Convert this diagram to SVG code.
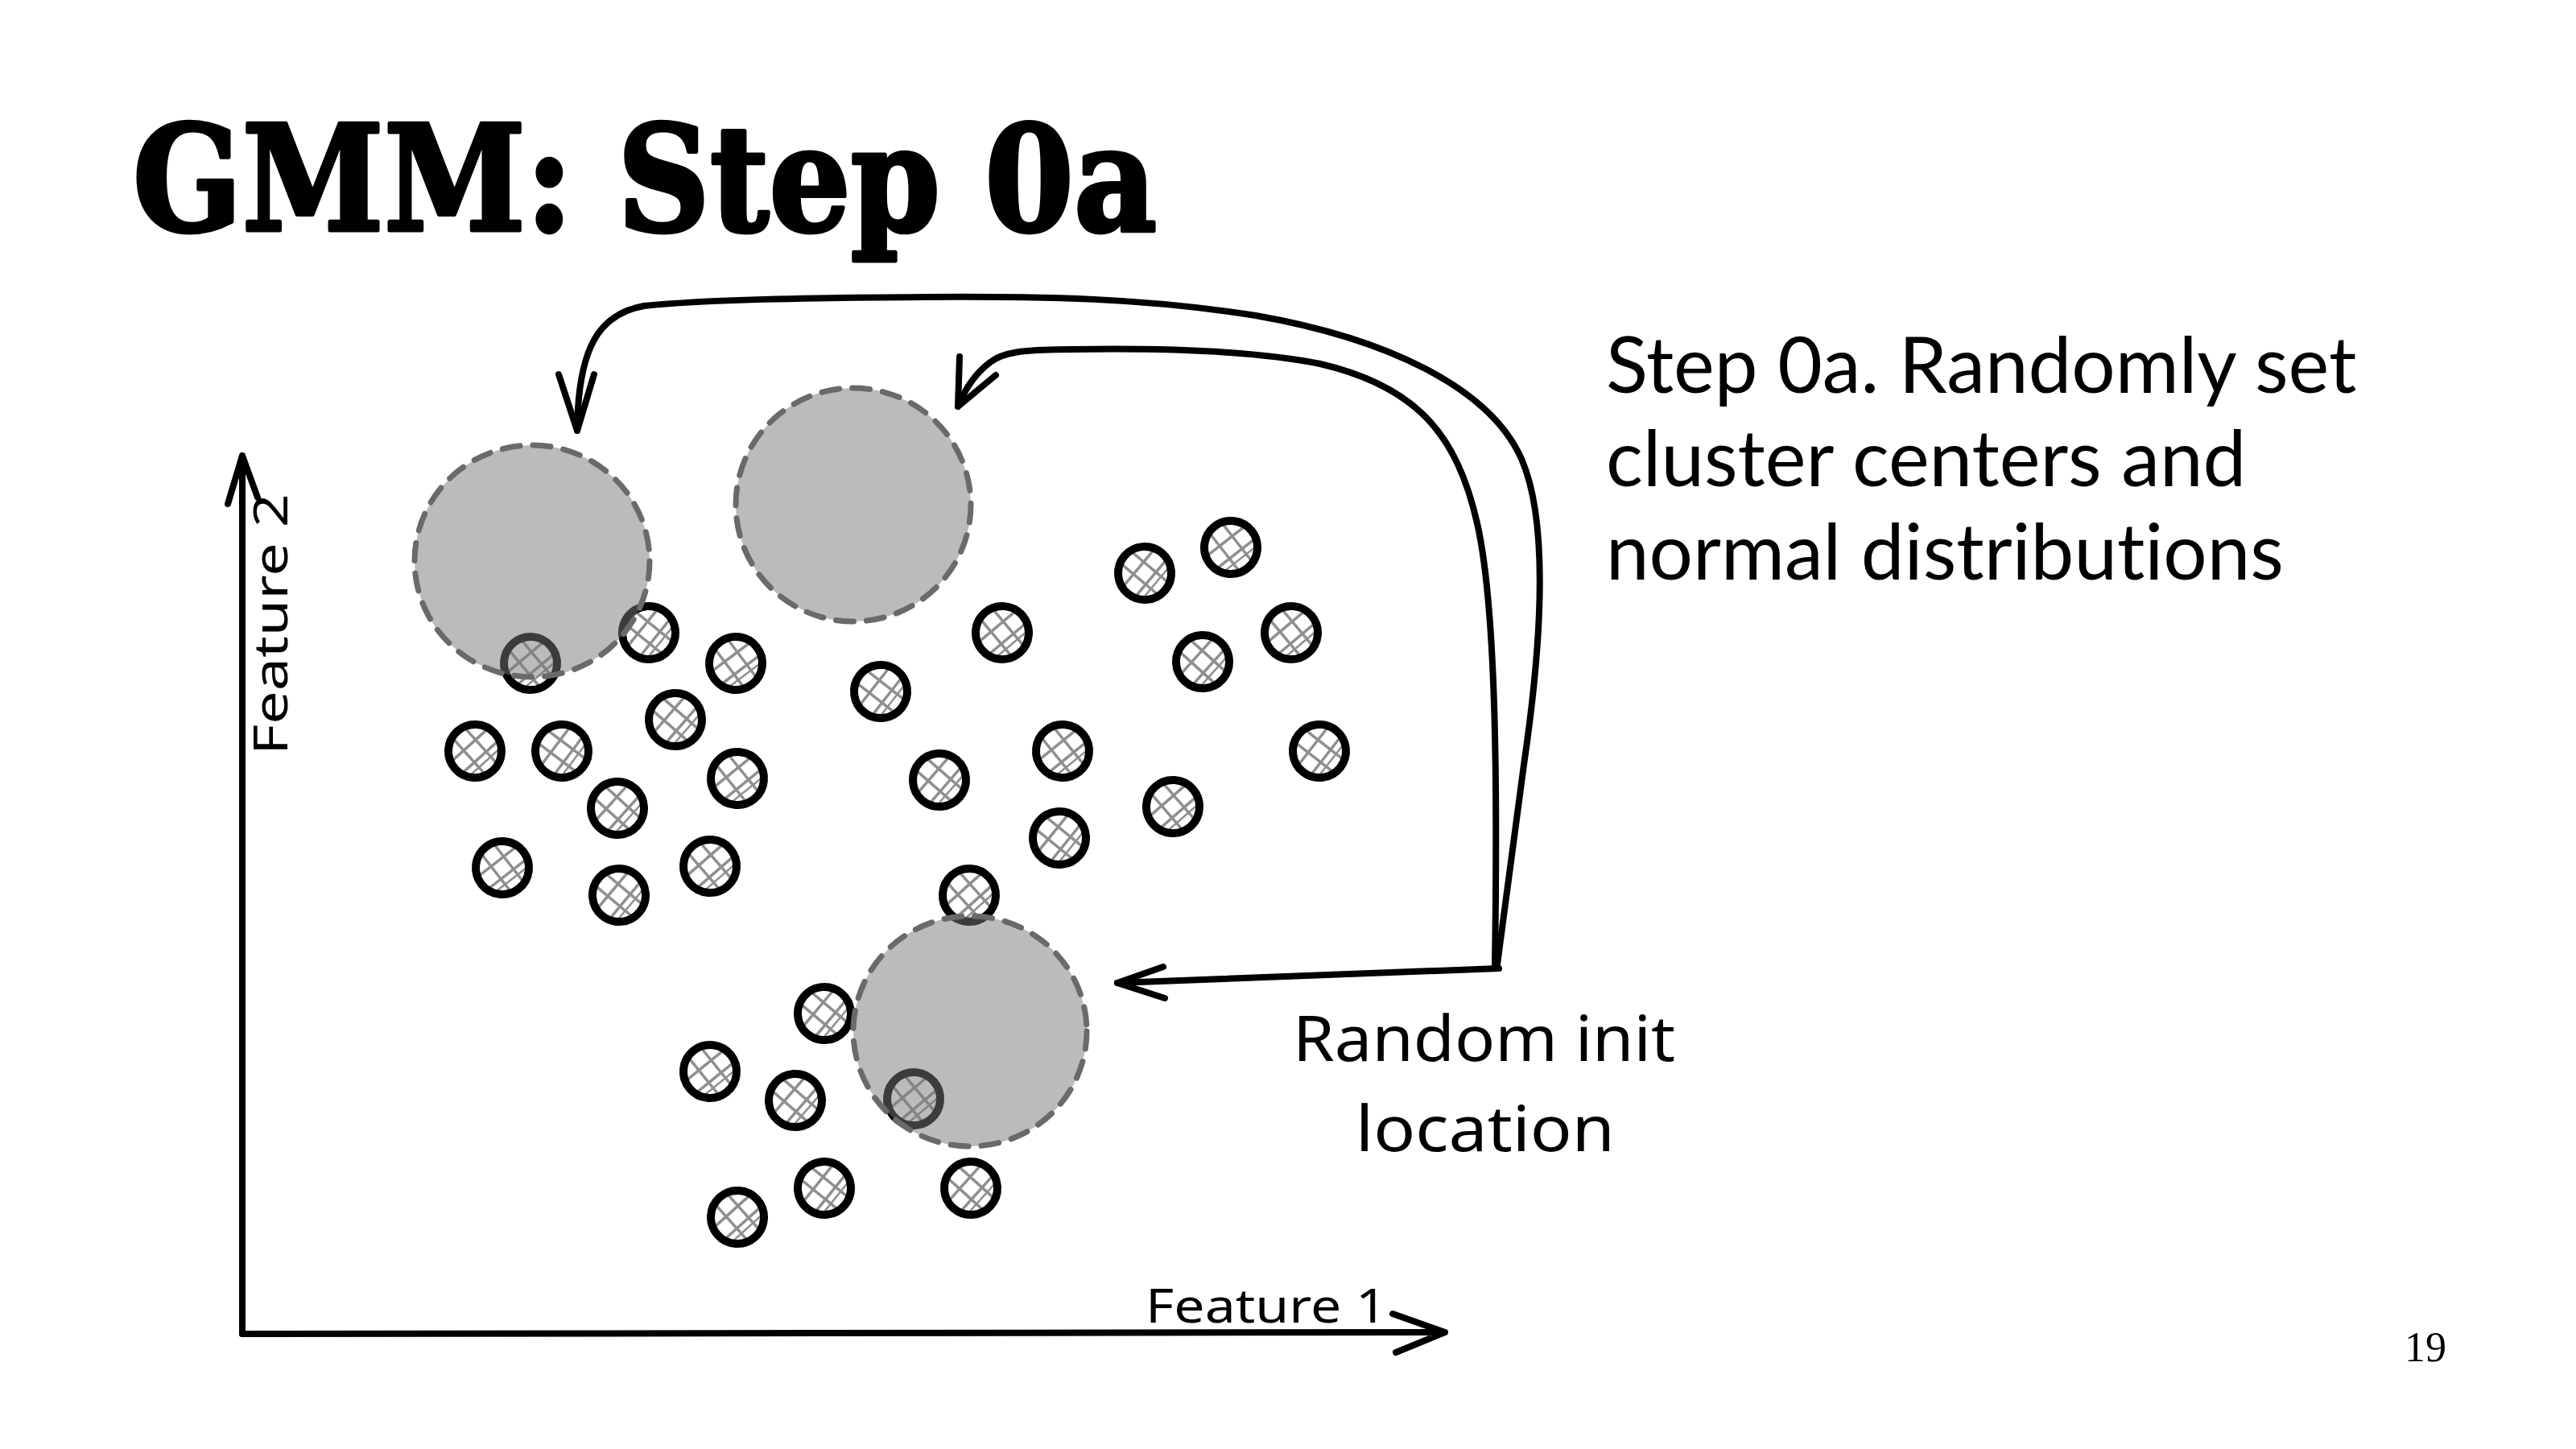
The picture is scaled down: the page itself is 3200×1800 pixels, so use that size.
<svg xmlns="http://www.w3.org/2000/svg" xmlns:xlink="http://www.w3.org/1999/xlink" width="3200" height="1800" viewBox="0 0 3200 1800">
<style>
.title{font-family:"DejaVu Serif","Liberation Serif",serif;font-weight:bold;font-size:182px;fill:#000;stroke:#000;stroke-width:5;stroke-linejoin:round}
.body{font-family:Lato,"Liberation Sans",sans-serif;font-size:96px;fill:#000;font-variant-ligatures:none;font-feature-settings:"liga" 0}
.hand{font-family:"Noto Sans","DejaVu Sans",sans-serif;fill:#000}
.pg{font-family:"Liberation Serif",serif;font-size:52px;fill:#000}
.ink{fill:none;stroke:#000;stroke-width:8;stroke-linecap:round;stroke-linejoin:round}
.axis{fill:none;stroke:#000;stroke-width:8;stroke-linecap:round;stroke-linejoin:round}
.dist{fill:#777;fill-opacity:0.5;stroke:#6a6a6a;stroke-width:7;stroke-dasharray:22 16;stroke-linecap:round}
</style>
<defs>
<g id="pt">
<g stroke="#8f8f8f" stroke-width="3.5" stroke-linecap="round">
<line x1="-16" y1="30" x2="30" y2="-16"/>
<line x1="-30" y1="16" x2="16" y2="-30"/>
<line x1="-16" y1="-30" x2="30" y2="16"/>
<line x1="-30" y1="-16" x2="16" y2="30"/>
<line x1="-8" y1="34" x2="34" y2="-8" stroke-width="2.5"/>
</g>
<circle r="33" fill="none" stroke="#000" stroke-width="10"/>
</g>
</defs>
<rect width="3200" height="1800" fill="#fff"/>
<text class="title" x="165" y="286" textLength="1272" lengthAdjust="spacingAndGlyphs">GMM: Step 0a</text>
<g id="description">
<text class="body" x="1995" y="488">Step 0a. Randomly set</text>
<text class="body" x="1995" y="604">cluster centers and</text>
<text class="body" x="1995" y="720">normal distributions</text>
</g>
<g id="axes">
<path class="axis" d="M301,1657 L301,566 M283,626 L301,566 L320,618"/>
<path class="axis" d="M301,1657 L1795,1655 M1730,1632 L1795,1655 L1734,1680"/>
<text class="hand" x="1423" y="1643" font-size="58" textLength="300" lengthAdjust="spacingAndGlyphs">Feature 1</text>
<text class="hand" transform="translate(357,938) rotate(-90)" font-size="58" textLength="325" lengthAdjust="spacingAndGlyphs">Feature 2</text>
</g>
<g id="points">
<use xlink:href="#pt" transform="translate(659,824) rotate(5)"/>
<use xlink:href="#pt" transform="translate(806,786) rotate(-6)"/>
<use xlink:href="#pt" transform="translate(914,824) rotate(8)"/>
<use xlink:href="#pt" transform="translate(839,894) rotate(-4)"/>
<use xlink:href="#pt" transform="translate(590,933) rotate(3)"/>
<use xlink:href="#pt" transform="translate(698,933) rotate(-8)"/>
<use xlink:href="#pt" transform="translate(916,967) rotate(6)"/>
<use xlink:href="#pt" transform="translate(767,1004) rotate(-3)"/>
<use xlink:href="#pt" transform="translate(624,1078) rotate(7)"/>
<use xlink:href="#pt" transform="translate(769,1112) rotate(-5)"/>
<use xlink:href="#pt" transform="translate(882,1076) rotate(4)"/>
<use xlink:href="#pt" transform="translate(1094,859) rotate(-7)"/>
<use xlink:href="#pt" transform="translate(1245,786) rotate(5)"/>
<use xlink:href="#pt" transform="translate(1167,969) rotate(-4)"/>
<use xlink:href="#pt" transform="translate(1320,933) rotate(6)"/>
<use xlink:href="#pt" transform="translate(1316,1041) rotate(-6)"/>
<use xlink:href="#pt" transform="translate(1204,1112) rotate(3)"/>
<use xlink:href="#pt" transform="translate(1422,712) rotate(-5)"/>
<use xlink:href="#pt" transform="translate(1529,680) rotate(7)"/>
<use xlink:href="#pt" transform="translate(1494,822) rotate(-3)"/>
<use xlink:href="#pt" transform="translate(1604,786) rotate(5)"/>
<use xlink:href="#pt" transform="translate(1639,933) rotate(-7)"/>
<use xlink:href="#pt" transform="translate(1457,1002) rotate(4)"/>
<use xlink:href="#pt" transform="translate(1024,1259) rotate(-5)"/>
<use xlink:href="#pt" transform="translate(882,1331) rotate(6)"/>
<use xlink:href="#pt" transform="translate(988,1367) rotate(-4)"/>
<use xlink:href="#pt" transform="translate(1135,1365) rotate(5)"/>
<use xlink:href="#pt" transform="translate(1024,1476) rotate(-6)"/>
<use xlink:href="#pt" transform="translate(916,1512) rotate(3)"/>
<use xlink:href="#pt" transform="translate(1206,1476) rotate(-3)"/>
</g>
<g id="dist1"><ellipse class="dist" cx="661" cy="697" rx="146" ry="144"/></g>
<g id="dist2"><ellipse class="dist" cx="1060" cy="627" rx="146" ry="145"/></g>
<g id="dist3"><ellipse class="dist" cx="1205" cy="1281" rx="145" ry="143"/></g>
<g id="label">
<text class="hand" x="1606" y="1318" font-size="78" textLength="475" lengthAdjust="spacingAndGlyphs">Random init</text>
<text class="hand" x="1684" y="1430" font-size="78" textLength="322" lengthAdjust="spacingAndGlyphs">location</text>
</g>
<g id="connectors">
<path class="ink" d="M1860,1198 L1893,950 C1915,800 1925,650 1890,570 C1850,480 1720,420 1560,392 C1420,370 1300,368 1150,369 C1000,370 880,372 800,380 C745,390 718,430 717,535"/>
<path class="ink" d="M694,465 L717,535 L738,465"/>
<path class="ink" d="M1857,1198 C1860,1000 1860,760 1835,650 C1810,540 1760,480 1640,452 C1560,436 1450,432 1330,434 C1270,434 1245,438 1230,450 C1210,465 1198,485 1190,505"/>
<path class="ink" d="M1192,443 L1190,505 L1237,466"/>
<path class="ink" d="M1862,1203 L1388,1221"/>
<path class="ink" d="M1445,1201 L1388,1221 L1447,1240"/>
</g>
<text class="pg" x="2987" y="1691">19</text>
</svg>
